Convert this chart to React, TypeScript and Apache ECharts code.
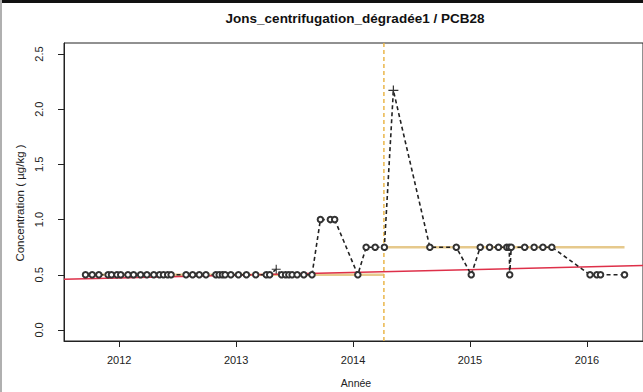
import React, { useEffect, useRef } from "react";
import * as echarts from "echarts";

const titleText = "Jons_centrifugation_dégradée1 / PCB28";
const xName = "Année";
const yName = "Concentration ( µg/kg )";

const xTicks = [2012, 2013, 2014, 2015, 2016];
const yTicks = [0, 0.5, 1, 1.5, 2, 2.5];

const years = [
  2011.712, 2011.769, 2011.826, 2011.905, 2011.934, 2011.981, 2012.013, 2012.075,
  2012.123, 2012.183, 2012.237, 2012.296, 2012.345, 2012.379, 2012.415, 2012.444,
  2012.572, 2012.628, 2012.685, 2012.742, 2012.827, 2012.855, 2012.883, 2012.906,
  2012.955, 2013.02, 2013.088, 2013.168, 2013.258, 2013.287, 2013.343, 2013.389,
  2013.423, 2013.451, 2013.479, 2013.522, 2013.579, 2013.649, 2013.721, 2013.806,
  2013.843, 2014.041, 2014.112, 2014.189, 2014.268, 2014.345, 2014.657, 2014.883,
  2015.011, 2015.088, 2015.168, 2015.244, 2015.315, 2015.336, 2015.34, 2015.353,
  2015.468, 2015.549, 2015.624, 2015.7, 2016.027, 2016.085, 2016.117, 2016.322,
];
const conc = [
  0.5, 0.5, 0.5, 0.5, 0.5, 0.5, 0.5, 0.5,
  0.5, 0.5, 0.5, 0.5, 0.5, 0.5, 0.5, 0.5,
  0.5, 0.5, 0.5, 0.5, 0.5, 0.5, 0.5, 0.5,
  0.5, 0.5, 0.5, 0.5, 0.5, 0.5, 0.55, 0.5,
  0.5, 0.5, 0.5, 0.5, 0.5, 0.5, 1.0, 1.0,
  1.0, 0.5, 0.75, 0.75, 0.75, 2.17, 0.75, 0.75,
  0.5, 0.75, 0.75, 0.75, 0.75, 0.75, 0.5, 0.75,
  0.75, 0.75, 0.75, 0.75, 0.5, 0.5, 0.5, 0.5,
];
// indices of points drawn with "+" instead of "o"
const plusIdx = [30, 45];

const changeYear = 2014.264;
const meanBefore = 0.5;
const meanAfter = 0.75;
const trendYears = [2011.528, 2016.48];
const trendVals = [0.46, 0.583];

const X_MIN = 2011.528;
const X_MAX = 2016.48;
const Y_MIN = -0.1;
const Y_MAX = 2.6;

const PLUS =
  "path://M-0.6,-5 L0.6,-5 L0.6,-0.6 L5,-0.6 L5,0.6 L0.6,0.6 L0.6,5 L-0.6,5 L-0.6,0.6 L-5,0.6 L-5,-0.6 L-0.6,-0.6 Z";

export default function App() {
  const ref = useRef<HTMLDivElement>(null);
  useEffect(() => {
    if (!ref.current) return;
    const chart = echarts.init(ref.current, null, { renderer: "svg" });
    const font = "'Liberation Sans', Arial, sans-serif";
    const firstYear = years[0];
    const lastYear = years[years.length - 1];
    const pts = years.map((y, i) => {
      const isPlus = plusIdx.includes(i);
      return isPlus
        ? {
            value: [y, conc[i]],
            symbol: PLUS,
            symbolSize: i === 45 ? 10 : 9,
            itemStyle: { color: "#333", borderWidth: 0 },
          }
        : { value: [y, conc[i]] };
    });
    chart.setOption({
      animation: false,
      backgroundColor: "#fff",
      graphic: [
        { type: "rect", shape: { x: 0, y: 0, width: 643, height: 3 }, style: { fill: "#111" } },
        { type: "rect", shape: { x: 0, y: 0, width: 2, height: 392 }, style: { fill: "#b0b0b0" } },
        {
          type: "text",
          x: 355,
          y: 18,
          style: {
            text: titleText,
            font: `bold 13.5px ${font}`,
            fill: "#111",
            textAlign: "center",
            textVerticalAlign: "middle",
          },
        },
        {
          type: "text",
          x: 356,
          y: 383,
          style: {
            text: xName,
            font: `10.5px ${font}`,
            fill: "#222",
            textAlign: "center",
            textVerticalAlign: "middle",
          },
        },
        {
          type: "text",
          x: 20,
          y: 203,
          rotation: Math.PI / 2,
          style: {
            text: yName,
            font: `11.5px ${font}`,
            fill: "#222",
            textAlign: "center",
            textVerticalAlign: "middle",
          },
        },
      ],
      grid: { left: 64, top: 43, width: 582, height: 298, show: true, borderColor: "#222", borderWidth: 1, backgroundColor: "#fff" },
      xAxis: {
        type: "value",
        min: X_MIN,
        max: X_MAX,
        axisLine: { show: true, onZero: false, lineStyle: { color: "#222" } },
        splitLine: { show: false },
        axisTick: { show: true, length: 6, customValues: xTicks, lineStyle: { color: "#222" } },
        axisLabel: {
          customValues: xTicks,
          margin: 13,
          fontSize: 11,
          fontFamily: font,
          color: "#222",
          formatter: (v: number) => String(Math.round(v)),
        },
      },
      yAxis: {
        type: "value",
        min: Y_MIN,
        max: Y_MAX,
        axisLine: { show: true, onZero: false, lineStyle: { color: "#222" } },
        splitLine: { show: false },
        axisTick: { show: true, length: 6, customValues: yTicks, lineStyle: { color: "#222" } },
        axisLabel: {
          customValues: yTicks,
          rotate: 90,
          margin: 20,
          fontSize: 11,
          fontFamily: font,
          color: "#222",
          formatter: (v: number) => v.toFixed(1),
        },
      },
      series: [
        {
          type: "line",
          data: [[firstYear, meanBefore], [changeYear, meanBefore]],
          symbol: "none",
          lineStyle: { color: "#e6c98c", width: 2.5 },
          z: 2,
        },
        {
          type: "line",
          data: [[changeYear, meanAfter], [lastYear, meanAfter]],
          symbol: "none",
          lineStyle: { color: "#e6c98c", width: 2.5 },
          z: 2,
        },
        {
          type: "line",
          data: [[changeYear, Y_MIN], [changeYear, Y_MAX]],
          symbol: "none",
          lineStyle: { color: "#eab64a", width: 1.5, type: [4, 3] },
          z: 2,
        },
        {
          type: "line",
          data: trendYears.map((y, i) => [y, trendVals[i]]),
          symbol: "none",
          lineStyle: { color: "#de3049", width: 1.5 },
          z: 3,
        },
        {
          type: "line",
          data: pts,
          symbol: "emptyCircle",
          symbolSize: 5.5,
          showSymbol: true,
          itemStyle: { color: "#333", borderColor: "#333", borderWidth: 1.4 },
          lineStyle: { color: "#222", width: 1.6, type: [4, 3] },
          z: 4,
        },
      ],
    });
    return () => chart.dispose();
  }, []);
  return (
    <div
      ref={ref}
      style={{ position: "fixed", left: 0, top: 0, width: 643, height: 392, background: "#fff" }}
    />
  );
}
